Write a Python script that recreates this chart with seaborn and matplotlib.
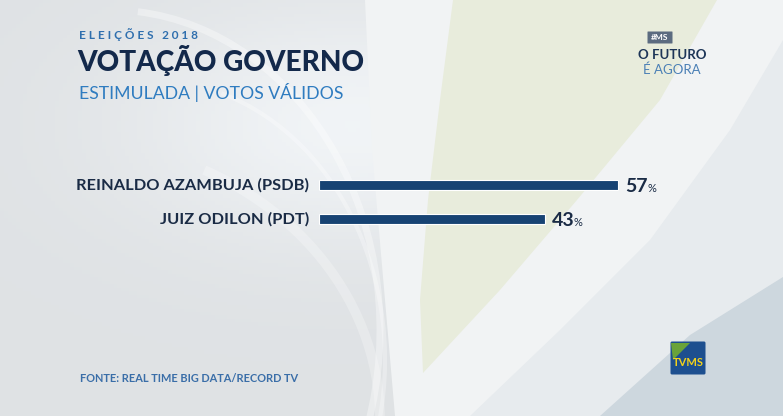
import numpy as np
import matplotlib.pyplot as plt
import seaborn as sns
from matplotlib.patches import Polygon, FancyBboxPatch, Arc

# chart data
candidates = ['REINALDO AZAMBUJA (PSDB)', 'JUIZ ODILON (PDT)']
votes = [57, 43]

kicker = 'E L E I Ç Õ E S   2 0 1 8'
title = 'VOTAÇÃO GOVERNO'
subtitle = 'ESTIMULADA | VOTOS VÁLIDOS'
source = 'FONTE: REAL TIME BIG DATA/RECORD TV'

sns.set_style('white')
plt.rcParams['font.family'] = ['Lato', 'DejaVu Sans']

W, H = 783, 416
fig = plt.figure(figsize=(W / 100, H / 100), dpi=100)

# background (decoration only)
bg = fig.add_axes([0, 0, 1, 1])
bg.set_xlim(0, W)
bg.set_ylim(H, 0)
bg.axis('off')
xx = np.linspace(0, 1, 200)
yy = np.linspace(0, 1, 120)
gx, gy = np.meshgrid(xx, yy)
shade = 0.875 + 0.07 * np.exp(-((gx - 0.45) ** 2 + (gy - 0.3) ** 2) / 0.08)
img = np.dstack([shade, shade + 0.012, shade + 0.022])
bg.imshow(np.clip(img, 0, 1), extent=[0, W, H, 0], aspect='auto', zorder=0)
for (cx, cy, w, h, t1, t2, lw, a) in [(110, 330, 540, 640, 275, 20, 5, 0.35),
                                      (150, 360, 470, 560, 285, 25, 3, 0.3),
                                      (60, 420, 640, 560, 300, 10, 7, 0.25)]:
    bg.add_patch(Arc((cx, cy), w, h, theta1=t1, theta2=t2, color='white', lw=lw, alpha=a, zorder=1))
bg.add_patch(Polygon([[365, 0], [783, 0], [783, 277], [600, 416], [395, 416], [385, 300], [372, 150]],
                     closed=True, facecolor='#f1f3f4', edgecolor='none', zorder=1))
bg.add_patch(Polygon([[453, 0], [717, 0], [660, 100], [577, 200], [500, 290], [423, 373],
                      [420, 300], [428, 200], [440, 100]],
                     closed=True, facecolor='#e8ecdc', edgecolor='none', zorder=2))
bg.add_patch(Polygon([[783, 40], [783, 277], [600, 416], [470, 416], [560, 330], [650, 240], [730, 130]],
                     closed=True, facecolor='#e7ebee', edgecolor='none', zorder=2))
bg.add_patch(Polygon([[783, 277], [783, 416], [600, 416], [690, 335]],
                     closed=True, facecolor='#cdd7de', edgecolor='none', zorder=2))

# header texts
bg.text(79, 35, kicker, color='#2f6fae', fontsize=8.5, fontweight='bold', va='center', zorder=3)
bg.text(77, 61, title, color='#13294b', fontsize=20.2, fontweight='black', va='center', zorder=3)
bg.text(79, 92, subtitle, color='#2f7cc0', fontsize=12.7, va='center', zorder=3)
bg.text(80, 379, source, color='#3a6ea8', fontsize=7.9, fontweight='bold', va='center', zorder=3)

# top-right logo
bg.add_patch(FancyBboxPatch((648, 32), 24, 11, boxstyle='round,pad=0.5', facecolor='#5b6b80',
                            edgecolor='none', zorder=3))
bg.text(660, 37.5, '#MS', color='white', fontsize=6, fontweight='bold', ha='center', va='center', zorder=4)
bg.text(672, 55, 'O FUTURO', color='#1d3557', fontsize=9.5, fontweight='bold', ha='center', va='center', zorder=3)
bg.text(672, 70, 'É AGORA', color='#4a7fb5', fontsize=9.5, ha='center', va='center', zorder=3)

# bottom-right logo
bg.add_patch(FancyBboxPatch((672, 343), 32, 30, boxstyle='round,pad=1.5', facecolor='#1d4f8f',
                            edgecolor='none', zorder=3))
bg.add_patch(Polygon([[671, 343], [690, 343], [673, 360]], closed=True, facecolor='#6aa33a',
                     edgecolor='none', zorder=4))
bg.text(688, 363, 'TVMS', color='#f2d21b', fontsize=8, fontweight='bold', ha='center', va='center', zorder=4)

# bars
scale = 5.25  # pixels per percent
x0 = 319
ax = fig.add_axes([x0 / W, 1 - 236 / H, (W - x0) / W, 68 / H])
ax.patch.set_alpha(0)
sns.barplot(x=votes, y=candidates, orient='h', color='#174373', width=0.3,
            edgecolor='white', linewidth=0.8, saturation=1, ax=ax)
ax.set_xlim(0, (W - x0) / scale)
ax.set_ylim(1.5, -0.5)
ax.axis('off')
for i, (name, v) in enumerate(zip(candidates, votes)):
    ax.text(-1.9, i, name, ha='right', va='center', color='#1a2b45', fontsize=11.8, fontweight='bold')
    ax.text(v + 1.4, i + 0.2, str(v), ha='left', va='baseline', color='#1a2b45', fontsize=14, fontweight='bold')
    ax.text(v + 5.5, i + 0.2, '%', ha='left', va='baseline', color='#1a2b45', fontsize=8)

fig.savefig('out.png', dpi=100)
